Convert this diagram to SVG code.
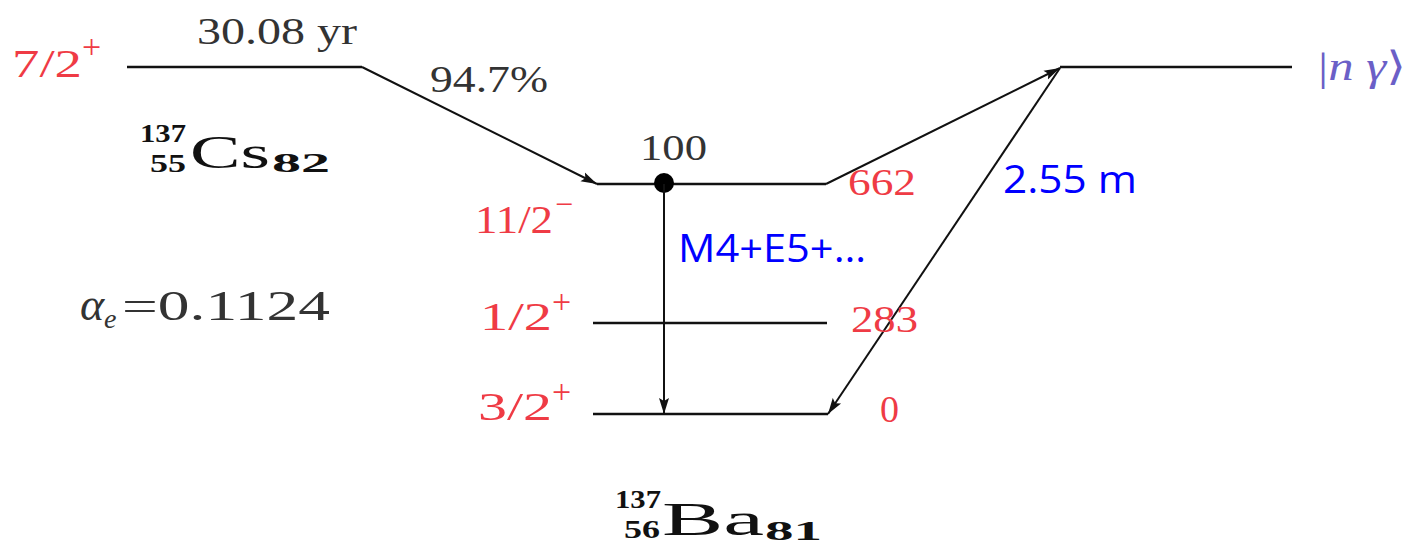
<svg xmlns="http://www.w3.org/2000/svg" width="1406" height="545" viewBox="0 0 1406 545">
<style>
.lvl{stroke:#111;stroke-width:2.6;fill:none}
.tr{stroke:#111;stroke-width:2;fill:none}
.cm{font-family:"Liberation Serif","DejaVu Serif",serif;fill:#333}
.red{font-family:"Liberation Serif","DejaVu Serif",serif;fill:#ef3b45}
.blue{font-family:"Open Sans","Liberation Sans",sans-serif;fill:#0000ff}
.bold{font-family:"Liberation Serif","DejaVu Serif",serif;font-weight:bold;fill:#111}
.el{font-family:"Liberation Serif","DejaVu Serif",serif;fill:#111}
</style>
<defs>
<marker id="ah" markerUnits="userSpaceOnUse" markerWidth="18" markerHeight="12" refX="16" refY="6" orient="auto">
<path d="M0,1 L16,6 L0,11 L3,6 Z" fill="#111"/>
</marker>
</defs>
<rect width="1406" height="545" fill="#fff"/>
<g id="levels">
<g id="cs-ground"><line class="lvl" x1="127" y1="67" x2="362" y2="67"/></g>
<g id="ba-662"><line class="lvl" x1="597" y1="184" x2="826" y2="184"/><circle cx="664" cy="183" r="10" fill="#000"/></g>
<g id="ba-283"><line class="lvl" x1="593" y1="323" x2="827" y2="323"/></g>
<g id="ba-0"><line class="lvl" x1="593" y1="414" x2="828" y2="414"/></g>
<g id="ngamma"><line class="lvl" x1="1060" y1="67" x2="1292" y2="67"/></g>
</g>
<g id="connectors">
<line class="tr" x1="362" y1="67" x2="597" y2="184" marker-end="url(#ah)"/>
<line class="tr" x1="664" y1="184" x2="664" y2="414" marker-end="url(#ah)"/>
<line class="tr" x1="826" y1="184" x2="1060" y2="68" marker-end="url(#ah)"/>
<line class="tr" x1="1060" y1="68" x2="828" y2="414" marker-end="url(#ah)"/>
</g>
<g id="labels">
<text class="red" x="12" y="77" font-size="40" textLength="70" lengthAdjust="spacingAndGlyphs">7/2</text>
<text class="red" x="82" y="58" font-size="34">+</text>
<text class="cm" x="197" y="44" font-size="38" textLength="160" lengthAdjust="spacingAndGlyphs">30.08 yr</text>
<text class="cm" x="430" y="92" font-size="38" textLength="118" lengthAdjust="spacingAndGlyphs">94.7%</text>
<g id="cs-label">
<text class="bold" x="140" y="142" font-size="26" textLength="46" lengthAdjust="spacingAndGlyphs">137</text>
<text class="bold" x="150" y="172" font-size="26" textLength="36" lengthAdjust="spacingAndGlyphs">55</text>
<text class="el" x="190" y="168" font-size="46" textLength="80" lengthAdjust="spacingAndGlyphs">Cs</text>
<text class="bold" x="272" y="172" font-size="28" textLength="58" lengthAdjust="spacingAndGlyphs">82</text>
</g>
<text class="cm" x="640" y="160" font-size="36" textLength="67" lengthAdjust="spacingAndGlyphs">100</text>
<text class="red" x="848" y="195" font-size="38" textLength="68" lengthAdjust="spacingAndGlyphs">662</text>
<text class="red" x="475" y="233" font-size="40" textLength="78" lengthAdjust="spacingAndGlyphs">11/2</text>
<text class="red" x="555" y="215" font-size="32">−</text>
<text class="blue" x="678" y="262" font-size="38" textLength="188" lengthAdjust="spacingAndGlyphs">M4+E5+…</text>
<text class="blue" x="1003" y="193" font-size="38" textLength="134" lengthAdjust="spacingAndGlyphs">2.55 m</text>
<text class="cm" x="80" y="320" font-size="46" font-style="italic">α</text>
<text class="cm" x="104" y="328" font-size="28" font-style="italic">e</text>
<text class="cm" x="122" y="320" font-size="42" textLength="208" lengthAdjust="spacingAndGlyphs">=0.1124</text>
<text class="red" x="480" y="330" font-size="40" textLength="72" lengthAdjust="spacingAndGlyphs">1/2</text>
<text class="red" x="552" y="313" font-size="34">+</text>
<text class="red" x="851" y="332" font-size="38" textLength="67" lengthAdjust="spacingAndGlyphs">283</text>
<text class="red" x="478" y="420" font-size="40" textLength="74" lengthAdjust="spacingAndGlyphs">3/2</text>
<text class="red" x="552" y="403" font-size="34">+</text>
<text class="red" x="880" y="422" font-size="38">0</text>
<g id="ba-label">
<text class="bold" x="615" y="508" font-size="26" textLength="46" lengthAdjust="spacingAndGlyphs">137</text>
<text class="bold" x="624" y="538" font-size="26" textLength="36" lengthAdjust="spacingAndGlyphs">56</text>
<text class="el" x="662" y="535" font-size="46" textLength="102" lengthAdjust="spacingAndGlyphs">Ba</text>
<text class="bold" x="765" y="540" font-size="28" textLength="57" lengthAdjust="spacingAndGlyphs">81</text>
</g>
<text x="1318" y="80" font-family="'Liberation Serif','DejaVu Serif',serif" font-size="40" fill="#6b5fc7" textLength="88" lengthAdjust="spacingAndGlyphs">|<tspan font-style="italic">n γ</tspan>⟩</text>
</g>
</svg>
